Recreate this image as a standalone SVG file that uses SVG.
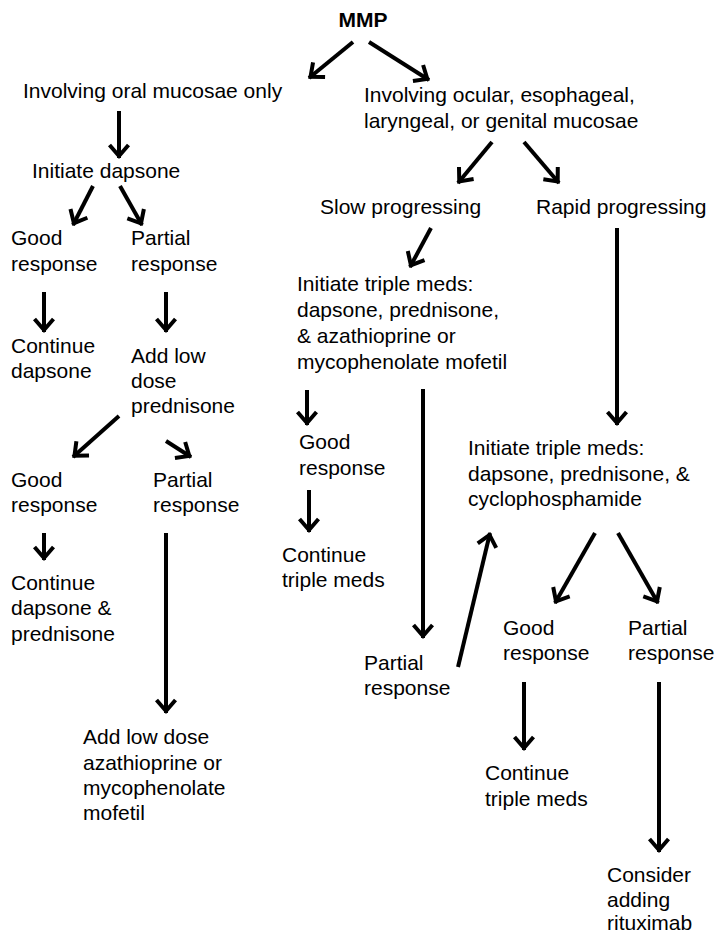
<svg xmlns="http://www.w3.org/2000/svg" width="717" height="935" viewBox="0 0 717 935">
<defs>
<style>
text{font-family:"Liberation Sans",Arial,Helvetica,sans-serif;font-size:21px;fill:#000}
.b{font-weight:bold}
.c line{stroke:#000;stroke-width:4;fill:none;marker-end:url(#ah)}
</style>
<marker id="ah" markerUnits="userSpaceOnUse" viewBox="-20 -20 40 40" markerWidth="40" markerHeight="40" refX="0" refY="0" orient="auto" overflow="visible">
<path d="M-13,-9.5 L-2,0 L-13,9.5" fill="none" stroke="#000" stroke-width="4" stroke-linejoin="miter"/>
</marker>
</defs>
<rect width="717" height="935" fill="#fff"/>
<g id="connectors" class="c">
<line x1="353" y1="42" x2="309" y2="78"/>
<line x1="369" y1="42" x2="429" y2="80"/>
<line x1="119" y1="111" x2="119" y2="158"/>
<line x1="492" y1="142" x2="458" y2="183"/>
<line x1="524" y1="142" x2="559" y2="183"/>
<line x1="93" y1="186" x2="73" y2="225"/>
<line x1="120" y1="186" x2="142" y2="225"/>
<line x1="44" y1="292" x2="44" y2="332"/>
<line x1="166" y1="292" x2="166" y2="332"/>
<line x1="431" y1="228" x2="410" y2="267"/>
<line x1="617" y1="228" x2="617" y2="425"/>
<line x1="119" y1="416" x2="73" y2="457"/>
<line x1="166" y1="441" x2="191" y2="457"/>
<line x1="307" y1="390" x2="307" y2="425"/>
<line x1="423" y1="389" x2="423" y2="638"/>
<line x1="44" y1="533" x2="44" y2="560"/>
<line x1="166" y1="533" x2="166" y2="713"/>
<line x1="309" y1="490" x2="309" y2="532"/>
<line x1="458" y1="667" x2="490" y2="533"/>
<line x1="595" y1="533" x2="555" y2="603"/>
<line x1="618" y1="533" x2="658" y2="603"/>
<line x1="524" y1="682" x2="524" y2="750"/>
<line x1="659" y1="682" x2="659" y2="852"/>
</g>
<g id="mmp"><text class="b" x="363" y="27" text-anchor="middle">MMP</text></g>
<g id="oral"><text x="23" y="98">Involving oral mucosae only</text></g>
<g id="ocular"><text x="364" y="102">Involving ocular, esophageal,<tspan x="364" y="128">laryngeal, or genital mucosae</tspan></text></g>
<g id="dapsone"><text x="32" y="178">Initiate dapsone</text></g>
<g id="good1"><text x="11" y="245">Good<tspan x="11" y="271">response</tspan></text></g>
<g id="partial1"><text x="131" y="245">Partial<tspan x="131" y="271">response</tspan></text></g>
<g id="cont1"><text x="11" y="353">Continue<tspan x="11" y="378">dapsone</tspan></text></g>
<g id="addpred"><text x="131" y="363">Add low<tspan x="131" y="388">dose</tspan><tspan x="131" y="413">prednisone</tspan></text></g>
<g id="good2"><text x="11" y="487">Good<tspan x="11" y="512">response</tspan></text></g>
<g id="partial2"><text x="153" y="487">Partial<tspan x="153" y="512">response</tspan></text></g>
<g id="cont2"><text x="11" y="590">Continue<tspan x="11" y="615">dapsone &amp;</tspan><tspan x="11" y="641">prednisone</tspan></text></g>
<g id="addaza"><text x="83" y="744">Add low dose<tspan x="83" y="770">azathioprine or</tspan><tspan x="83" y="795">mycophenolate</tspan><tspan x="83" y="820">mofetil</tspan></text></g>
<g id="slow"><text x="320" y="214">Slow progressing</text></g>
<g id="rapid"><text x="536" y="214">Rapid progressing</text></g>
<g id="triple1"><text x="297" y="291">Initiate triple meds:<tspan x="297" y="317">dapsone, prednisone,</tspan><tspan x="297" y="343">&amp; azathioprine or</tspan><tspan x="297" y="369">mycophenolate mofetil</tspan></text></g>
<g id="good3"><text x="299" y="449">Good<tspan x="299" y="475">response</tspan></text></g>
<g id="cont3"><text x="282" y="562">Continue<tspan x="282" y="587">triple meds</tspan></text></g>
<g id="partial3"><text x="364" y="670">Partial<tspan x="364" y="695">response</tspan></text></g>
<g id="triple2"><text x="468" y="455">Initiate triple meds:<tspan x="468" y="481">dapsone, prednisone, &amp;</tspan><tspan x="468" y="506">cyclophosphamide</tspan></text></g>
<g id="good4"><text x="503" y="635">Good<tspan x="503" y="660">response</tspan></text></g>
<g id="partial4"><text x="628" y="635">Partial<tspan x="628" y="660">response</tspan></text></g>
<g id="cont4"><text x="485" y="780">Continue<tspan x="485" y="806">triple meds</tspan></text></g>
<g id="consider"><text x="607" y="882">Consider<tspan x="607" y="907">adding</tspan><tspan x="607" y="930">rituximab</tspan></text></g>
</svg>
